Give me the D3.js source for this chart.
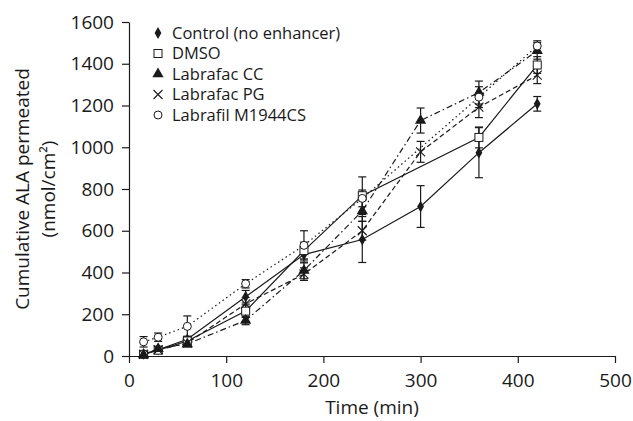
<!DOCTYPE html>
<meta charset="utf-8">
<style>
body { margin: 0; background: #fff; }
svg text { font-family: 'Open Sans', sans-serif; fill: #1a1a1a; }
.axis path, .axis line { stroke: #1a1a1a; stroke-width: 1.2px; }
.axis text { font-size: 19px; }
</style>
<svg id="chart" width="633" height="421"></svg>
<script src="https://cdn.jsdelivr.net/npm/d3@7"></script>
<script>

// time points (min)
var times = [15, 30, 60, 120, 180, 240, 300, 360, 420];

// cumulative ALA permeated (nmol/cm2), null = no point
var control   = [10, 30, 80, 284, 486, 558, 716, 974, 1208];
var dmso      = [8, 28, 72, 215, 505, 768, null, 1047, 1394];
var labCC     = [5, 35, 58, 170, 410, 695, 1128, 1262, 1462];
var labPG     = [8, 30, 62, 250, 392, 600, 978, 1192, 1345];
var labrafil  = [68, 90, 142, 346, 530, 755, null, 1240, 1485];

// standard deviations
var controlErr  = [6, 10, 15, 30, 40, 110, 100, 120, 35];
var dmsoErr     = [5, 10, 20, 30, 40, 90, null, 50, 40];
var labCCErr    = [5, 10, 15, 20, 40, 50, 60, 55, 40];
var labPGErr    = [5, 10, 15, 30, 30, 45, 50, 50, 40];
var labrafilErr = [25, 20, 50, 20, 70, 40, null, 50, 25];

var names = ["Control (no enhancer)", "DMSO", "Labrafac CC", "Labrafac PG", "Labrafil M1944CS"];
var xTicks = [0, 100, 200, 300, 400, 500];
var yTicks = [0, 200, 400, 600, 800, 1000, 1200, 1400, 1600];

var series = [
  {name: names[0], v: control,  e: controlErr,  sym: "diamond",  dash: null},
  {name: names[1], v: dmso,     e: dmsoErr,     sym: "square",   dash: null},
  {name: names[2], v: labCC,    e: labCCErr,    sym: "triangle", dash: "6,3,1.5,3"},
  {name: names[3], v: labPG,    e: labPGErr,    sym: "cross",    dash: "5,3"},
  {name: names[4], v: labrafil, e: labrafilErr, sym: "circle",   dash: "1.5,3"}
];

var svg = d3.select("#chart");
var margin = {left: 129, top: 22, right: 18, bottom: 65};
var W = 633, H = 421;

var x = d3.scaleLinear().domain([0, 500]).range([margin.left, W - margin.right]);
var y = d3.scaleLinear().domain([0, 1600]).range([H - margin.bottom, margin.top]);

svg.append("g")
    .attr("class", "axis")
    .attr("transform", "translate(0," + y(0) + ")")
    .call(d3.axisBottom(x).tickValues(xTicks).tickFormat(d3.format("d"))
      .tickSize(7).tickSizeOuter(0).tickPadding(8))
  .selectAll("text").attr("dy", "0.85em");

svg.append("g")
    .attr("class", "axis")
    .attr("transform", "translate(" + x(0) + ",0)")
    .call(d3.axisLeft(y).tickValues(yTicks).tickFormat(d3.format("d"))
      .tickSize(7).tickSizeOuter(0).tickPadding(8));

// axis titles
svg.append("text")
    .attr("x", (x(0) + x(500)) / 2).attr("y", 414)
    .attr("text-anchor", "middle").style("font-size", "19px")
    .text("Time (min)");

var yl = svg.append("g").attr("transform", "translate(0," + ((y(0) + y(1600)) / 2) + ") rotate(-90)");
yl.append("text").attr("x", 0).attr("y", 29)
    .attr("text-anchor", "middle").style("font-size", "19px")
    .text("Cumulative ALA permeated");
yl.append("text").attr("x", 0).attr("y", 55)
    .attr("text-anchor", "middle").style("font-size", "19px")
    .text("(nmol/cm²)");

function drawSym(g, sym, cx, cy) {
  if (sym == "diamond") {
    g.append("path").attr("d", d3.symbol().type(d3.symbolDiamond).size(40)())
      .attr("transform", "translate(" + cx + "," + cy + ")").attr("fill", "#1a1a1a");
  } else if (sym == "square") {
    g.append("rect").attr("x", cx - 4).attr("y", cy - 4).attr("width", 8).attr("height", 8)
      .attr("fill", "#fff").attr("stroke", "#1a1a1a").attr("stroke-width", 1);
  } else if (sym == "triangle") {
    g.append("path").attr("d", d3.symbol().type(d3.symbolTriangle).size(55)())
      .attr("transform", "translate(" + cx + "," + cy + ")").attr("fill", "#1a1a1a");
  } else if (sym == "cross") {
    g.append("path").attr("d", "M-4.5,-4.5L4.5,4.5M-4.5,4.5L4.5,-4.5")
      .attr("transform", "translate(" + cx + "," + cy + ")")
      .attr("stroke", "#1a1a1a").attr("stroke-width", 1.1).attr("fill", "none");
  } else {
    g.append("circle").attr("cx", cx).attr("cy", cy).attr("r", 4)
      .attr("fill", "#fff").attr("stroke", "#1a1a1a").attr("stroke-width", 1);
  }
}

var plot = svg.append("g");

var line = d3.line()
    .x(function(d) { return x(d.t); })
    .y(function(d) { return y(d.v); });

series.forEach(function(s) {
  var pts = times.map(function(t, i) { return {t: t, v: s.v[i], e: s.e[i]}; })
    .filter(function(d) { return d.v != null; });
  s.pts = pts;
  plot.append("path")
    .datum(pts)
    .attr("d", line)
    .attr("fill", "none")
    .attr("stroke", "#1a1a1a")
    .attr("stroke-width", 1.2)
    .attr("stroke-dasharray", s.dash);
});

// error bars
series.forEach(function(s) {
  s.pts.forEach(function(d) {
    var cx = x(d.t), y1 = y(d.v + d.e), y2 = y(Math.max(0, d.v - d.e));
    plot.append("line").attr("x1", cx).attr("x2", cx).attr("y1", y1).attr("y2", y2)
      .attr("stroke", "#1a1a1a").attr("stroke-width", 1.2);
    [y1, y2].forEach(function(yy) {
      plot.append("line").attr("x1", cx - 4).attr("x2", cx + 4).attr("y1", yy).attr("y2", yy)
        .attr("stroke", "#1a1a1a").attr("stroke-width", 1.2);
    });
  });
});

series.forEach(function(s) {
  s.pts.forEach(function(d) { drawSym(plot, s.sym, x(d.t), y(d.v)); });
});

// legend
var leg = svg.append("g");
series.forEach(function(s, i) {
  var ly = 33 + i * 20.5;
  drawSym(leg, s.sym, 158, ly);
  leg.append("text").attr("x", 172).attr("y", ly).attr("dy", "0.35em")
    .style("font-size", "16.5px").text(s.name);
});

</script>
